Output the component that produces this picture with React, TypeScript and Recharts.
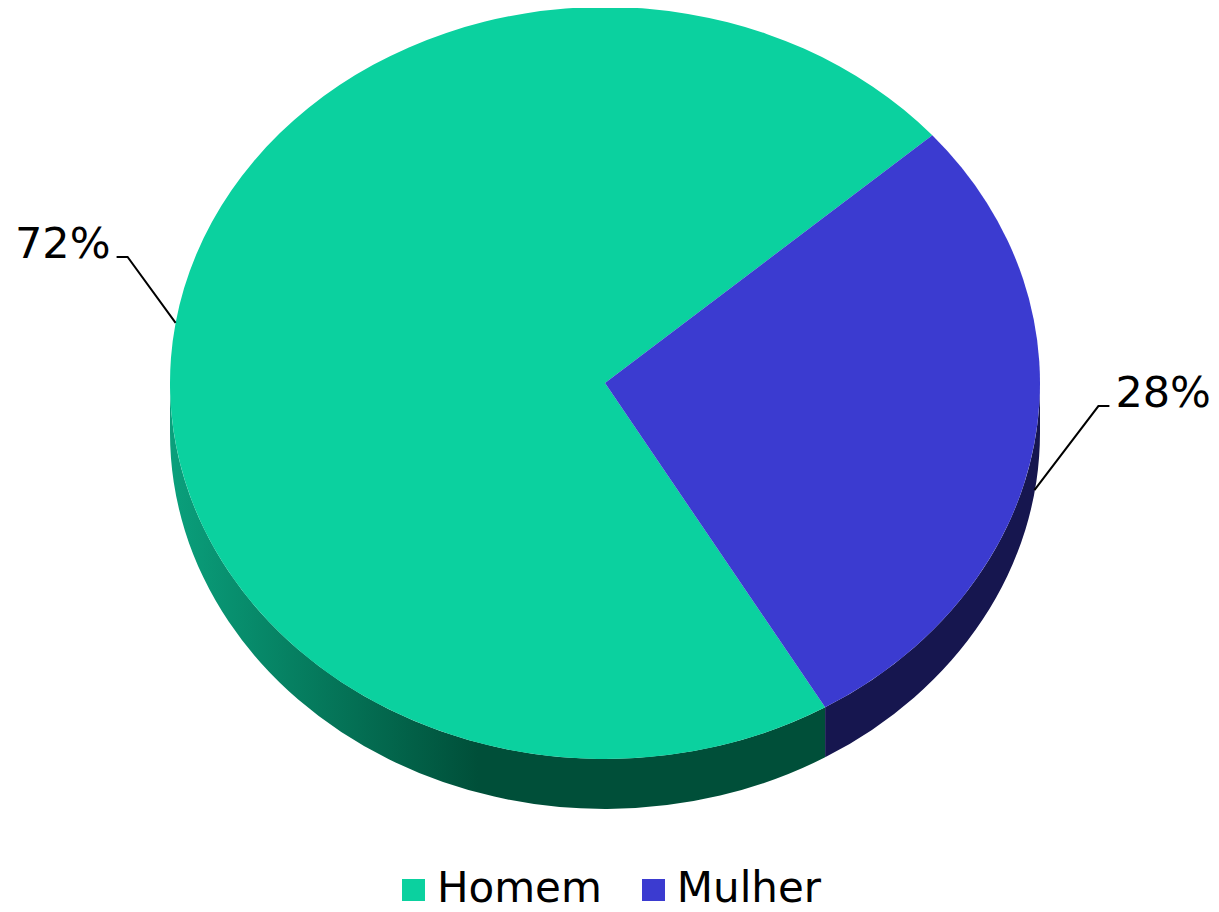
import { PieChart, Pie, Cell, Legend } from "recharts";

const categories = ["Homem", "Mulher"];
const values = [72, 28];
const topColors = ["#0bd19f", "#3b3bd0"];
const sideColors = ["url(#homemSide)", "#16164f"];

const data = categories.map((name, i) => ({ name, value: values[i] }));

const RAD = Math.PI / 180;
const TILT = 0.8644; // vertical squash of the disc
const DEPTH = 50;
const FONT = "'DejaVu Sans', Verdana, sans-serif";

function pt(cx: number, cy: number, r: number, a: number) {
  return { x: cx + r * Math.cos(-a * RAD), y: cy + r * TILT * Math.sin(-a * RAD) };
}

function renderSlice(props: any) {
  const { cx, cy, outerRadius: r, startAngle, endAngle, fill } = props;
  const name = props.name ?? props.payload?.name;
  const idx = categories.indexOf(name);
  const lo = Math.min(startAngle, endAngle);
  const hi = Math.max(startAngle, endAngle);
  const ry = r * TILT;

  // front wall: only the part of the arc in the lower half is visible
  const walls: string[] = [];
  [[-180, 0], [180, 360], [540, 720]].forEach(([a, b]) => {
    const b1 = Math.max(lo, a);
    const b2 = Math.min(hi, b);
    if (b2 <= b1) return;
    const p1 = pt(cx, cy, r, b1);
    const p2 = pt(cx, cy, r, b2);
    walls.push(
      `M${p1.x},${p1.y} A${r},${ry} 0 0 0 ${p2.x},${p2.y} L${p2.x},${p2.y + DEPTH} A${r},${ry} 0 0 1 ${p1.x},${p1.y + DEPTH} Z`
    );
  });

  const s = pt(cx, cy, r, lo);
  const e = pt(cx, cy, r, hi);
  const large = hi - lo > 180 ? 1 : 0;
  const top = `M${cx},${cy} L${s.x},${s.y} A${r},${ry} 0 ${large} 0 ${e.x},${e.y} Z`;

  return (
    <g>
      {walls.map((d, i) => (
        <path key={i} d={d} fill={sideColors[idx]} stroke="none" />
      ))}
      <path d={top} fill={fill} stroke="none" />
    </g>
  );
}

function renderLabel(props: any) {
  const { cx, cy, outerRadius, midAngle, percent } = props;
  const p = pt(cx, cy, outerRadius, midAngle);
  const lower = Math.sin(-midAngle * RAD) > 0;
  const start = { x: p.x, y: lower ? p.y + DEPTH - 3 : p.y };
  const dir = Math.cos(-midAngle * RAD) >= 0 ? 1 : -1;
  const elbow = { x: start.x + dir * (lower ? 64 : 48), y: start.y - (lower ? 84 : 66) };
  const end = { x: elbow.x + dir * 11, y: elbow.y };
  return (
    <g>
      <polyline
        points={`${start.x},${start.y} ${elbow.x},${elbow.y} ${end.x},${end.y}`}
        fill="none"
        stroke="#000"
        strokeWidth={2}
      />
      <text
        x={end.x + dir * 6}
        y={end.y + 1}
        textAnchor={dir > 0 ? "start" : "end"}
        fontFamily={FONT}
        fontSize={43}
        fill="#000"
      >
        {`${Math.round(percent * 100)}%`}
      </text>
    </g>
  );
}

function LegendContent() {
  return (
    <div
      style={{
        display: "flex",
        justifyContent: "center",
        alignItems: "center",
        height: 49,
        fontFamily: FONT,
        fontSize: 42,
        color: "#000",
        paddingLeft: 4,
      }}
    >
      {categories.map((c, i) => (
        <div key={c} style={{ display: "flex", alignItems: "center", marginRight: i === 0 ? 40 : 0 }}>
          <span style={{ width: 23, height: 22, background: topColors[i], marginRight: 12, marginTop: 4, display: "inline-block" }} />
          <span>{c}</span>
        </div>
      ))}
    </div>
  );
}

export default function App() {
  return (
    <PieChart width={1203} height={904} margin={{ top: 0, right: 0, bottom: 0, left: 0 }}>
      <defs>
        <linearGradient id="homemSide" gradientUnits="userSpaceOnUse" x1={162} y1={0} x2={470} y2={0}>
          <stop offset="0%" stopColor="#0aa07c" />
          <stop offset="100%" stopColor="#004f39" />
        </linearGradient>
      </defs>
      <Pie
        data={data}
        dataKey="value"
        nameKey="name"
        cx={597}
        cy={375}
        innerRadius={0}
        outerRadius={435}
        startAngle={41.2}
        endAngle={401.2}
        stroke="none"
        isAnimationActive={false}
        shape={renderSlice}
        activeShape={renderSlice}
        label={renderLabel}
        labelLine={false}
      >
        {data.map((d, i) => (
          <Cell key={d.name} fill={topColors[i]} />
        ))}
      </Pie>
      <Legend verticalAlign="bottom" content={<LegendContent />} wrapperStyle={{ bottom: 0 }} />
    </PieChart>
  );
}
